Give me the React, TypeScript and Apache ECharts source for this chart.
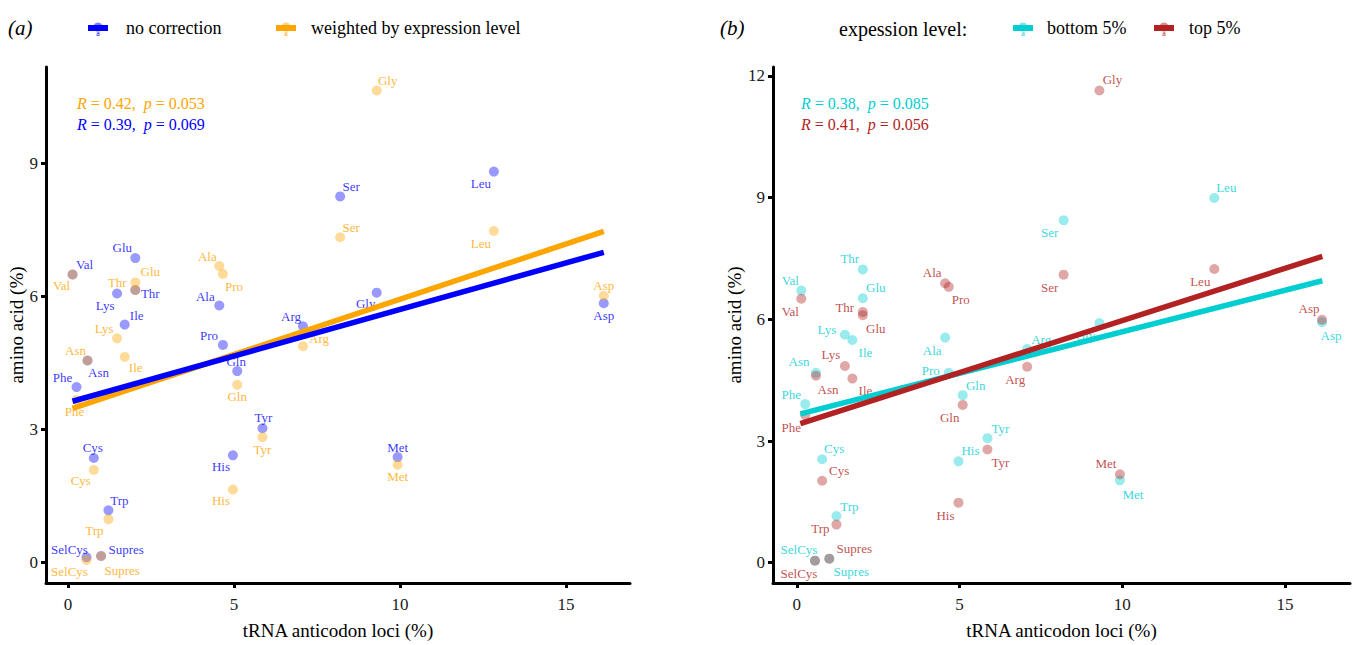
import React, { useEffect, useRef } from "react";
import * as echarts from "echarts";

// ---------- data ----------
const aminoAcids = ["Val","Glu","Thr","Lys","Ile","Asn","Phe","Ala","Pro","Gln","Ser","Leu","Gly","Asp","Arg","Tyr","Cys","His","Met","Trp","SelCys","Supres"];
const trnaLoci = [0.14,2.03,2.03,1.48,1.71,0.59,0.26,4.56,4.67,5.10,8.20,12.83,9.30,16.14,7.08,5.86,0.78,4.97,9.93,1.22,0.56,1.00];
const noCorrection = [6.49,6.86,6.14,6.06,5.36,4.55,3.95,5.79,4.90,4.31,8.25,8.81,6.08,5.84,5.32,3.02,2.35,2.41,2.37,1.17,0.11,0.14];
const weightedByExpression = [6.49,6.31,6.14,5.05,4.63,4.55,3.66,6.68,6.50,4.00,7.33,7.47,10.64,6.01,4.87,2.82,2.08,1.64,2.20,0.97,0.05,0.14];
const bottom5 = [6.71,6.52,7.23,5.62,5.49,4.68,3.91,5.55,4.68,4.13,8.44,8.99,5.91,5.93,5.27,3.07,2.55,2.50,2.03,1.15,0.05,0.10];
const top5 = [6.51,6.10,6.18,4.85,4.54,4.61,3.64,6.89,6.80,3.89,7.10,7.24,11.64,5.99,4.83,2.79,2.02,1.48,2.18,0.94,0.05,0.10];

// fitted regression lines (end points)
const fitNoCorrection = [[0.14, 3.63], [16.14, 6.99]];
const fitWeighted = [[0.14, 3.47], [16.14, 7.46]];
const fitBottom5 = [[0.11, 3.67], [16.15, 6.95]];
const fitTop5 = [[0.11, 3.43], [16.15, 7.55]];

const xTicks = [0, 5, 10, 15];
const yTicksLeft = [0, 3, 6, 9];
const yTicksRight = [0, 3, 6, 9, 12];

const statsLeft = [
  { r: "0.42", p: "0.053" },
  { r: "0.39", p: "0.069" },
];
const statsRight = [
  { r: "0.38", p: "0.085" },
  { r: "0.41", p: "0.056" },
];

// ---------- styling ----------
const SERIF = "Liberation Serif";
const BLUE = "#0000FF";
const ORANGE = "#FFA500";
const CYAN = "#00CED1";
const RED = "#B22222";

type Off = Record<string, [number, number]>;
const offBlue: Off = { Val:[12,-10], Glu:[-13,-11], Thr:[15,4], Lys:[-12,12], Ile:[12,-9], Asn:[11,12], Phe:[-14,-10], Ala:[-14,-9], Pro:[-14,-9], Gln:[-1,-10], Ser:[11,-10], Leu:[-13,12], Gly:[-11,11], Asp:[0,12], Arg:[-12,-10], Tyr:[1,-11], Cys:[-1,-10], His:[-12,11], Met:[0,-10], Trp:[11,-10], SelCys:[-17,-8], Supres:[25,-6] };
const offOrange: Off = { Val:[-11,11], Glu:[15,-11], Thr:[-18,-7], Lys:[-13,-10], Ile:[11,11], Asn:[-12,-10], Phe:[-2,12], Ala:[-12,-10], Pro:[11,12], Gln:[0,12], Ser:[11,-10], Leu:[-13,12], Gly:[11,-10], Asp:[0,-10], Arg:[16,-8], Tyr:[0,12], Cys:[-13,11], His:[-12,11], Met:[0,12], Trp:[-14,11], SelCys:[-17,12], Supres:[21,15] };
const offCyan: Off = { Val:[-11,-10], Thr:[-13,-11], Glu:[13,-11], Lys:[-18,-5], Ile:[13,12], Ala:[-13,13], Asn:[-17,-11], Phe:[-14,-10], Pro:[-18,-2], Gln:[13,-10], Arg:[14,-9], Gly:[-14,13], Ser:[-14,12], Leu:[12,-11], Asp:[9,13], Tyr:[13,-10], His:[12,-11], Cys:[12,-11], Met:[13,14], Trp:[13,-10], SelCys:[-16,-11], Supres:[22,13] };
const offRed: Off = { Val:[-11,13], Thr:[-18,-5], Glu:[13,13], Ala:[-13,-11], Pro:[12,13], Ser:[-14,13], Lys:[-14,-11], Ile:[13,12], Asn:[12,14], Phe:[-14,12], Gln:[-13,13], Arg:[-12,13], Gly:[13,-11], Leu:[-14,12], Asp:[-13,-11], Tyr:[13,13], His:[-13,13], Cys:[17,-10], Met:[-14,-11], Trp:[-16,4], SelCys:[-16,13], Supres:[25,-10] };

function rgba(hex: string, a: number) {
  const n = parseInt(hex.slice(1), 16);
  return `rgba(${(n >> 16) & 255},${(n >> 8) & 255},${n & 255},${a})`;
}

function scatter(name: string, values: number[], color: string, offs: Off, idx: number) {
  return {
    type: "scatter",
    name,
    xAxisIndex: idx,
    yAxisIndex: idx,
    symbolSize: 10,
    z: 2,
    silent: true,
    itemStyle: { color: rgba(color, 0.5) },
    label: {
      show: true,
      position: "inside",
      formatter: "{b}",
      color,
      fontSize: 13,
      fontFamily: SERIF,
    },
    data: aminoAcids.map((aa, i) => ({
      name: aa,
      value: [trnaLoci[i], values[i]],
      label: { offset: offs[aa] || [0, -10] },
    })),
  };
}

function fitLine(name: string, pts: number[][], color: string, idx: number, z: number) {
  return {
    type: "line",
    name,
    xAxisIndex: idx,
    yAxisIndex: idx,
    data: pts,
    symbol: "none",
    silent: true,
    z,
    lineStyle: { color, width: 5.5, cap: "butt" },
  };
}

function xAxis(idx: number, min: number, max: number) {
  return {
    gridIndex: idx,
    type: "value",
    min,
    max,
    axisLine: { show: true, onZero: false, lineStyle: { color: "#000", width: 3 } },
    axisTick: { show: true, length: 5, customValues: xTicks, lineStyle: { color: "#000", width: 3 } },
    axisLabel: { customValues: xTicks, fontSize: 17, color: "#1a1a1a", fontFamily: SERIF, margin: 13 },
    splitLine: { show: false },
    name: "tRNA anticodon loci (%)",
    nameLocation: "middle",
    nameGap: 38,
    nameTextStyle: { fontSize: 19, color: "#000", fontFamily: SERIF },
  };
}

function yAxis(idx: number, min: number, max: number, ticks: number[]) {
  return {
    gridIndex: idx,
    type: "value",
    min,
    max,
    axisLine: { show: true, onZero: false, lineStyle: { color: "#000", width: 3 } },
    axisTick: { show: true, length: 5, customValues: ticks, lineStyle: { color: "#000", width: 3 } },
    axisLabel: { customValues: ticks, fontSize: 17, color: "#1a1a1a", fontFamily: SERIF, margin: 8 },
    splitLine: { show: false },
    name: "amino acid (%)",
    nameLocation: "middle",
    nameGap: 19,
    nameTextStyle: { fontSize: 19, color: "#000", fontFamily: SERIF },
  };
}

function statText(x: number, y: number, s: { r: string; p: string }, color: string) {
  const base = { fontSize: 16, fontFamily: SERIF, fill: color, color };
  return {
    type: "text",
    x,
    y,
    silent: true,
    style: {
      text: `{i|R}{n| = ${s.r},  }{i|p}{n| = ${s.p}}`,
      fill: color,
      fontSize: 16,
      fontFamily: SERIF,
      align: "left",
      verticalAlign: "middle",
      rich: {
        i: { ...base, fontStyle: "italic" },
        n: { ...base },
      },
    },
  };
}

function legendKey(x: number, y: number, color: string) {
  return [
    { type: "circle", silent: true, shape: { cx: x + 10, cy: y - 1, r: 4.5 }, style: { fill: rgba(color, 0.5) } },
    { type: "rect", silent: true, shape: { x, y: y - 3, width: 20, height: 6 }, style: { fill: color } },
    { type: "text", silent: true, x: x + 10, y: y + 5, style: { text: "a", fill: color, fontSize: 8, fontFamily: SERIF, align: "center", verticalAlign: "middle" } },
  ];
}

function plainText(x: number, y: number, text: string, size: number, italic = false) {
  return {
    type: "text",
    x,
    y,
    silent: true,
    style: { text, fill: "#000", fontSize: size, fontFamily: SERIF, fontStyle: italic ? "italic" : "normal", align: "left", verticalAlign: "middle" },
  };
}

export default function App() {
  const ref = useRef<HTMLDivElement>(null);
  useEffect(() => {
    if (!ref.current) return;
    const chart = echarts.init(ref.current, undefined, { renderer: "svg" });
    const option: any = {
      animation: false,
      backgroundColor: "#ffffff",
      textStyle: { fontFamily: SERIF },
      grid: [
        { left: 46, top: 67, width: 584, height: 516 },
        { left: 773, top: 67, width: 577, height: 516 },
      ],
      xAxis: [xAxis(0, -0.66, 16.93), xAxis(1, -0.73, 17.0)],
      yAxis: [yAxis(0, -0.47, 11.17, yTicksLeft), yAxis(1, -0.5, 12.22, yTicksRight)],
      series: [
        scatter("no correction", noCorrection, BLUE, offBlue, 0),
        scatter("weighted by expression level", weightedByExpression, ORANGE, offOrange, 0),
        fitLine("weighted by expression level", fitWeighted, ORANGE, 0, 5),
        fitLine("no correction", fitNoCorrection, BLUE, 0, 6),
        scatter("bottom 5%", bottom5, CYAN, offCyan, 1),
        scatter("top 5%", top5, RED, offRed, 1),
        fitLine("bottom 5%", fitBottom5, CYAN, 1, 5),
        fitLine("top 5%", fitTop5, RED, 1, 6),
      ],
      graphic: [
        plainText(8, 28, "(a)", 21, true),
        ...legendKey(88, 28, BLUE),
        plainText(126, 28, "no correction", 18),
        ...legendKey(276, 28, ORANGE),
        plainText(311, 28, "weighted by expression level", 18),
        statText(77, 103, statsLeft[0], ORANGE),
        statText(77, 124, statsLeft[1], BLUE),

        plainText(720, 28, "(b)", 21, true),
        plainText(839, 29, "expession level:", 20),
        ...legendKey(1013, 28, CYAN),
        plainText(1047, 28, "bottom 5%", 18),
        ...legendKey(1154, 28, RED),
        plainText(1189, 28, "top 5%", 18),
        statText(801, 103, statsRight[0], CYAN),
        statText(801, 124, statsRight[1], RED),
      ],
    };
    chart.setOption(option);
    return () => chart.dispose();
  }, []);
  return (
    <div
      ref={ref}
      style={{ position: "absolute", left: 0, top: 0, width: 1357, height: 645, background: "#fff" }}
    />
  );
}
